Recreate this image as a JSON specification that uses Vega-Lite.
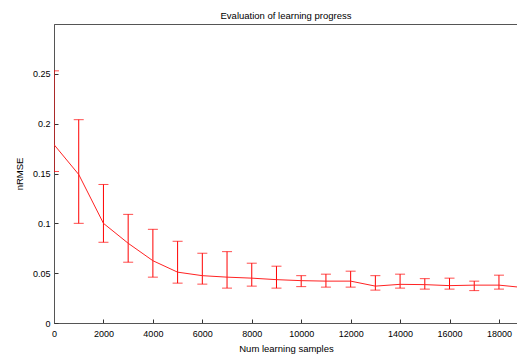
{
  "$schema": "https://vega.github.io/schema/vega-lite/v6.json",
  "width": 464,
  "height": 299,
  "autosize": {"type": "none"},
  "padding": {"left": 54, "top": 24, "right": 0, "bottom": 35},
  "background": "white",
  "view": {"stroke": "#555", "strokeWidth": 1},
  "title": {"text": "Evaluation of learning progress", "font": "Liberation Sans", "fontSize": 9.5, "fontWeight": "normal", "color": "#000", "anchor": "middle", "baseline": "alphabetic", "offset": -4},
  "config": {
    "axis": {"labelFont": "Liberation Sans", "titleFont": "Liberation Sans", "labelFontSize": 9, "titleFontSize": 9.5, "titleFontWeight": "normal", "labelColor": "#000", "titleColor": "#000", "domainColor": "#555", "tickColor": "#333", "grid": false, "tickSize": -4}
  },
  "data": {"values": [
    {"x": 0, "m": 0.179, "lo": 0.152, "hi": 0.253},
    {"x": 1000, "m": 0.149, "lo": 0.100, "hi": 0.204},
    {"x": 2000, "m": 0.100, "lo": 0.081, "hi": 0.139},
    {"x": 3000, "m": 0.080, "lo": 0.061, "hi": 0.109},
    {"x": 4000, "m": 0.0625, "lo": 0.046, "hi": 0.094},
    {"x": 5000, "m": 0.051, "lo": 0.040, "hi": 0.082},
    {"x": 6000, "m": 0.0475, "lo": 0.039, "hi": 0.070},
    {"x": 7000, "m": 0.046, "lo": 0.035, "hi": 0.0716},
    {"x": 8000, "m": 0.045, "lo": 0.037, "hi": 0.060},
    {"x": 9000, "m": 0.0435, "lo": 0.035, "hi": 0.057},
    {"x": 10000, "m": 0.0425, "lo": 0.0365, "hi": 0.0475},
    {"x": 11000, "m": 0.042, "lo": 0.036, "hi": 0.049},
    {"x": 12000, "m": 0.042, "lo": 0.036, "hi": 0.052},
    {"x": 13000, "m": 0.037, "lo": 0.033, "hi": 0.0475},
    {"x": 14000, "m": 0.0388, "lo": 0.035, "hi": 0.049},
    {"x": 15000, "m": 0.0385, "lo": 0.034, "hi": 0.0445},
    {"x": 16000, "m": 0.0375, "lo": 0.034, "hi": 0.045},
    {"x": 17000, "m": 0.038, "lo": 0.0325, "hi": 0.042},
    {"x": 18000, "m": 0.038, "lo": 0.034, "hi": 0.048},
    {"x": 19000, "m": 0.0355, "lo": 0.031, "hi": 0.041}
  ]},
  "encoding": {
    "x": {"field": "x", "type": "quantitative", "scale": {"domain": [0, 18770], "nice": false, "zero": false},
      "axis": {"orient": "bottom", "title": "Num learning samples", "values": [0, 2000, 4000, 6000, 8000, 10000, 12000, 14000, 16000, 18000], "format": "d", "labelPadding": 10, "titlePadding": 5, "labelFlush": false}}
  },
  "layer": [
    {
      "mark": {"type": "rule", "color": "#ff0000", "strokeWidth": 1, "clip": true},
      "encoding": {
        "y": {"field": "lo", "type": "quantitative", "scale": {"domain": [0, 0.3], "nice": false},
          "axis": {"title": "nRMSE", "values": [0, 0.05, 0.1, 0.15, 0.2, 0.25], "format": "~g", "labelPadding": 8, "titlePadding": 8}},
        "y2": {"field": "hi"}
      }
    },
    {
      "mark": {"type": "tick", "orient": "horizontal", "color": "#ff0000", "size": 10, "thickness": 1, "clip": true},
      "encoding": {"y": {"field": "hi", "type": "quantitative"}}
    },
    {
      "mark": {"type": "tick", "orient": "horizontal", "color": "#ff0000", "size": 10, "thickness": 1, "clip": true},
      "encoding": {"y": {"field": "lo", "type": "quantitative"}}
    },
    {
      "mark": {"type": "line", "color": "#ff2222", "strokeWidth": 1, "clip": true},
      "encoding": {"y": {"field": "m", "type": "quantitative"}}
    }
  ]
}
